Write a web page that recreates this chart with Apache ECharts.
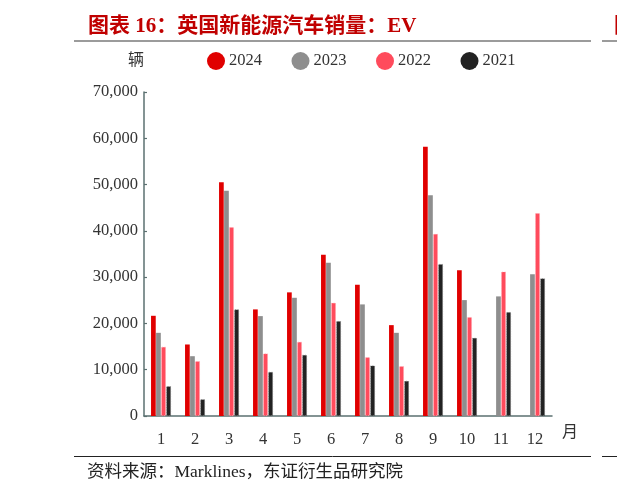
<!DOCTYPE html>
<html>
<head>
<meta charset="utf-8">
<script src="https://cdn.jsdelivr.net/npm/echarts@6/dist/echarts.min.js"></script>
<style>
html,body{margin:0;padding:0;background:#fff;}
#chart{width:617px;height:492px;}
</style>
</head>
<body>
<div id="chart"></div>
<script>
var months = ['1','2','3','4','5','6','7','8','9','10','11','12'];
var seriesNames = ['2024','2023','2022','2021'];
var sales2024 = [21650, 15450, 50520, 23030, 26710, 34850, 28350, 19630, 58160, 31470, null, null];
var sales2023 = [17970, 12920, 48640, 21580, 25540, 33120, 24110, 17970, 47700, 25040, 25840, 30600];
var sales2022 = [14940, 11840, 40780, 13500, 16020, 24460, 12700, 10760, 39330, 21360, 31170, 43800];
var sales2021 = [6430, 3610, 23030, 9520, 13200, 20500, 10900, 7580, 32830, 16880, 22450, 29740];
var yTicks = [0, 10000, 20000, 30000, 40000, 50000, 60000, 70000];

var colors = ['#e00000', '#8e8e8e', '#ff4b5c', '#222222'];
var borderColors = [null, null, '#ffa3ad', '#7a7a7a'];
var serif = '"Liberation Serif","Noto Sans CJK SC",serif';
var axisColor = '#5b7070';

var chart = echarts.init(document.getElementById('chart'), null, {renderer: 'canvas'});

function fmt(v){ return String(v).replace(/\B(?=(\d{3})+(?!\d))/g, ','); }

var allData = [sales2024, sales2023, sales2022, sales2021];
var series = allData.map(function(d, i){
  var st = {color: colors[i]};
  if (borderColors[i]) {
    st.borderColor = borderColors[i];
    st.borderWidth = 0.7;
    st.borderType = [1, 1.5];
  }
  return {
    name: seriesNames[i],
    type: 'bar',
    data: d,
    barWidth: 4.7,
    barGap: '8%',
    itemStyle: st
  };
});

chart.setOption({
  animation: false,
  color: colors,
  grid: {left: 144, right: 65, top: 92, bottom: 76},
  legend: {
    data: seriesNames,
    left: 202,
    top: 47,
    icon: 'circle',
    itemWidth: 18,
    itemHeight: 18,
    itemGap: 29.5,
    itemStyle: {borderWidth: 0},
    textStyle: {fontFamily: serif, fontSize: 16.5, color: '#333', padding: [0,0,0,-1]}
  },
  xAxis: {
    type: 'category',
    data: months,
    axisLine: {lineStyle: {color: axisColor, width: 1.5}},
    axisTick: {inside: true, length: 4, lineStyle: {color: axisColor, width: 1.2}},
    axisLabel: {fontFamily: serif, fontSize: 16.5, color: '#333', margin: 15}
  },
  yAxis: {
    type: 'value',
    min: yTicks[0],
    max: yTicks[yTicks.length - 1],
    interval: yTicks[1] - yTicks[0],
    splitLine: {show: false},
    axisLine: {show: true, lineStyle: {color: axisColor, width: 1.5}},
    axisTick: {show: true, inside: true, length: 3, lineStyle: {color: axisColor, width: 1.2}},
    axisLabel: {fontFamily: serif, fontSize: 16.5, color: '#333', margin: 6, formatter: fmt}
  },
  graphic: [
    {type: 'text', left: 88, top: 16, style: {text: '图表 16：英国新能源汽车销量：EV', fill: '#c00000', font: 'bold 21px ' + serif}},
    {type: 'text', left: 614, top: 16, style: {text: '图', fill: '#c00000', font: 'bold 21px ' + serif}},
    {type: 'line', shape: {x1: 74, y1: 41, x2: 591, y2: 41}, style: {stroke: '#7a7a7a', lineWidth: 1.5}},
    {type: 'line', shape: {x1: 602, y1: 41, x2: 617, y2: 41}, style: {stroke: '#7a7a7a', lineWidth: 1.5}},
    {type: 'text', left: 128, top: 53, style: {text: '辆', fill: '#333', font: '16px ' + serif}},
    {type: 'text', left: 562, top: 425, style: {text: '月', fill: '#333', font: '16px ' + serif}},
    {type: 'line', shape: {x1: 74, y1: 456.5, x2: 591, y2: 456.5}, style: {stroke: '#222', lineWidth: 1}},
    {type: 'line', shape: {x1: 602, y1: 456.5, x2: 617, y2: 456.5}, style: {stroke: '#222', lineWidth: 1}},
    {type: 'text', left: 87, top: 464, style: {text: '资料来源：Marklines，东证衍生品研究院', fill: '#222', font: '17.5px ' + serif}}
  ],
  series: series
});
</script>
</body>
</html>
